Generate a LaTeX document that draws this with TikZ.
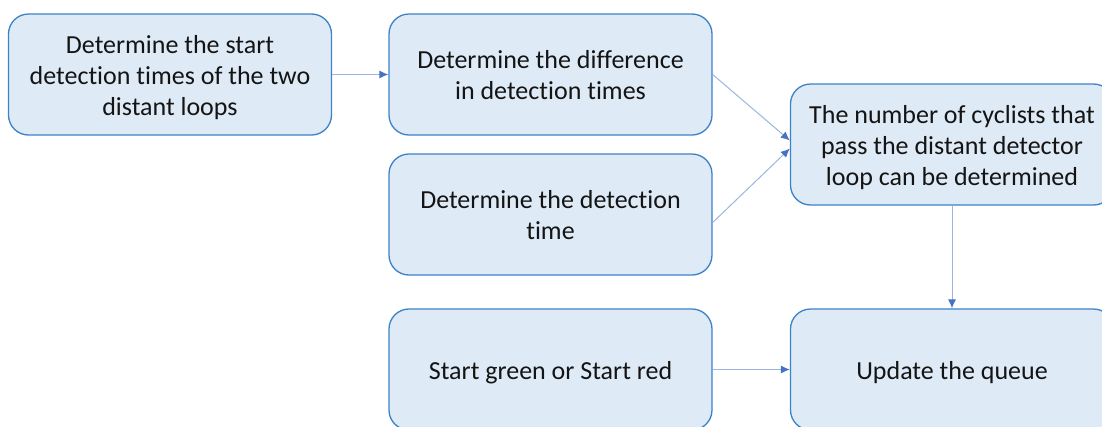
\documentclass[tikz,border=0pt]{standalone}
\usepackage{fontspec}
\setmainfont{Carlito}[Ligatures=NoCommon]
\usetikzlibrary{arrows.meta,calc}
\definecolor{boxfill}{HTML}{DEEAF6}
\definecolor{boxline}{HTML}{3C82C8}
\definecolor{linkline}{HTML}{9DB5E0}
\definecolor{linktip}{HTML}{4472C4}
\definecolor{ink}{HTML}{141414}
% fixed height above the first line and depth below the last one,
% so every label sits at the same place in its box
\newcommand\tstrut{\rule{0pt}{26pt}}
\newcommand\bstrut{\rule[-7pt]{0pt}{7pt}}
\tikzset{
  stepbox/.style={draw=boxline, line width=1.3pt, fill=boxfill, rounded corners=20pt,
    minimum width=323pt, minimum height=121pt, align=center,
    inner sep=0pt, text=ink, font=\fontsize{26pt}{31pt}\selectfont},
  link/.style={draw=linkline, line width=1pt, -{Latex[length=9pt,width=8pt,color=linktip]}}
}
\begin{document}
\begin{tikzpicture}[x=1pt,y=-1pt]
  \useasboundingbox (0,0) rectangle (1102,426);
  \clip (0,0) rectangle (1102,426);
  \node[stepbox] (b1) at (170,74.5) {\tstrut Determine the start\\detection times of the two\\distant loops\bstrut};
  \node[stepbox] (b2) at (550.5,74.5) {\tstrut Determine the difference\\in detection times\bstrut};
  \node[stepbox] (b3) at (550.5,214.5) {\tstrut Determine the detection\\time\bstrut};
  \node[stepbox] (b4) at (952,144.5) {\tstrut The number of cyclists that\\pass the distant detector\\loop can be determined\bstrut};
  \node[stepbox] (b5) at (550.5,369.5) {\tstrut Start green or Start red\bstrut};
  \node[stepbox] (b6) at (952,369.5) {\tstrut Update the queue\bstrut};
  \draw[link] (b1.east) -- (b2.west);
  \draw[link] (b2.east) -- ($(b4.west)+(0,-4)$);
  \draw[link] ($(b3.east)+(0,8)$) -- ($(b4.west)+(0,4)$);
  \draw[link] (b4.south) -- (b6.north);
  \draw[link] (b5.east) -- (b6.west);
\end{tikzpicture}
\end{document}
